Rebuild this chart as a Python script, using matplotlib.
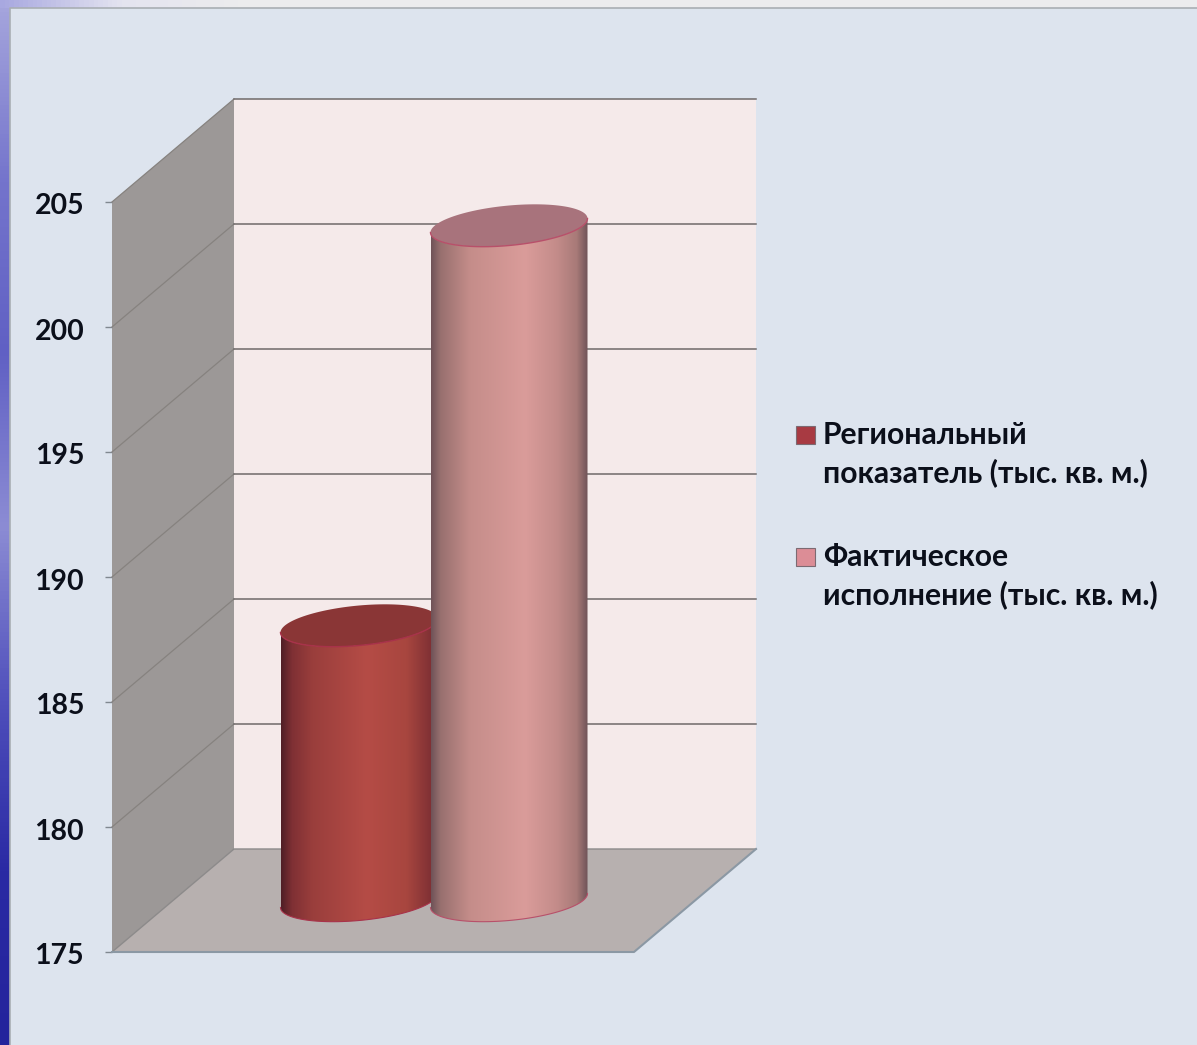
import numpy as np
import matplotlib
matplotlib.use('Agg')
from matplotlib import pyplot as plt
from matplotlib.colors import LinearSegmentedColormap
from matplotlib.patches import Polygon, PathPatch, Rectangle
from matplotlib.path import Path
from matplotlib.transforms import ScaledTranslation

plt.rcParams['font.family'] = ['Lato', 'Open Sans', 'DejaVu Sans']

labels = ['Региональный\nпоказатель (тыс. кв. м.)', 'Фактическое\nисполнение (тыс. кв. м.)']
values = [186, 202]
yticks = [175, 180, 185, 190, 195, 200, 205]
top_colors = ['#8a3636', '#a8737c']
key_colors = ['#a83a42', '#dc8d96']
edge_colors = ['#a8324a', '#b8506a']
shades = [
    [(0, '#4f1f26'), (.07, '#7f3034'), (.2, '#9a3e3c'), (.55, '#b54c46'), (.8, '#a8463f'), (.96, '#7f3034'), (1, '#5f2529')],
    [(0, '#6f5358'), (.06, '#98706f'), (.25, '#c58d8a'), (.6, '#da9c9a'), (.8, '#c48c8a'), (.93, '#a87a78'), (1, '#6f5358')],
]

W, H = 1197, 1045
BG = '#dde4ee'
PX_X = 150.0   # pixels per category
PX_Y = 25.0    # pixels per value unit
DEPTH_X = 122 / PX_X
DEPTH_Y = 103 / PX_Y

fig = plt.figure(figsize=(W / 100, H / 100), dpi=100, facecolor=BG)

# slide decoration behind the chart
side = fig.add_axes([0, 0, 10 / W, 1 - 8 / H])
side.axis('off')
blue = LinearSegmentedColormap.from_list('side', ['#a4a4dc', '#7474cc', '#6060c4', '#8c8cd4', '#5050bc', '#2a2aa4', '#24249c'])
side.imshow(np.linspace(0, 1, 256).reshape(-1, 1), cmap=blue, aspect='auto')
strip = fig.add_axes([0, 1 - 8 / H, 1, 8 / H])
strip.axis('off')
top_cmap = LinearSegmentedColormap.from_list('strip', [(0, '#a8a8e0'), (.1, '#e4e4f0'), (.2, '#ececee'), (1, '#ececee')])
strip.imshow(np.linspace(0, 1, 256).reshape(1, -1), cmap=top_cmap, aspect='auto')
fig.add_artist(plt.Line2D([10 / W, 10 / W, 1], [0, 1 - 8 / H, 1 - 8 / H], color='#a9aeb4', lw=1.2))

ax = fig.add_axes([112 / W, 1 - 952 / H, 522 / W, 750 / H])
ax.set_facecolor('none')
ax.set_xlim(-186 / PX_X, 336 / PX_X)
ax.set_ylim(175, 205)
x0, x1 = ax.get_xlim()
for s in ax.spines.values():
    s.set_visible(False)
ax.set_xticks([])
ax.set_yticks(yticks)
ax.tick_params(axis='y', length=5, width=1, color='#808890', pad=15, labelsize=20.5, labelcolor='#0b0f1a')
down = ScaledTranslation(0, -2 / 100, fig.dpi_scale_trans)
for t in ax.get_yticklabels():
    t.set_fontweight('bold')
    t.set_transform(t.get_transform() + down)


def shift(x, y, d):
    return (x + d * DEPTH_X, y + d * DEPTH_Y)


# walls and floor
ax.add_patch(Polygon([shift(x0, 175, 1), shift(x1, 175, 1), shift(x1, 205, 1), shift(x0, 205, 1)],
                     fc='#f5eaea', ec='none', clip_on=False, zorder=1))
ax.add_patch(Polygon([shift(x0, 175, 0), shift(x0, 205, 0), shift(x0, 205, 1), shift(x0, 175, 1)],
                     fc='#9c9897', ec='none', clip_on=False, zorder=1))
ax.add_patch(Polygon([shift(x0, 175, 0), shift(x1, 175, 0), shift(x1, 175, 1), shift(x0, 175, 1)],
                     fc='#b7b0af', ec='none', clip_on=False, zorder=1))

# gridlines run along the back wall and down the side wall
for v in yticks:
    back_l, back_r = shift(x0, v, 1), shift(x1, v, 1)
    front = shift(x0, v, 0)
    if v == 175:
        ax.plot([front[0], back_l[0], back_r[0]], [front[1], back_l[1], back_r[1]], color='#8c8a8a', lw=1,
                clip_on=False, zorder=2)
        ax.plot([x0, x1, back_r[0]], [175, 175, back_r[1]], color='#8b98a4', lw=1.5, clip_on=False, zorder=2)
    else:
        ax.plot([front[0], back_l[0]], [front[1], back_l[1]], color='#86827f', lw=0.9, clip_on=False, zorder=2)
        ax.plot([back_l[0], back_r[0]], [back_l[1], back_r[1]], color='#6f6a6a', lw=1.1, clip_on=False, zorder=2)

R_X = 78.5 / PX_X
R_Y = 20.0 / PX_Y
TILT = 7.0 / PX_Y
t = np.linspace(0, 2 * np.pi, 121)

for i, v in enumerate(values):
    cx, base = shift(i, 175, 0.5)
    top = v + 0.5 * DEPTH_Y
    z = 3 + i
    ex = R_X * np.cos(t)
    ey = R_Y * np.sin(t) + TILT * np.cos(t)
    # body outline: front half of the top rim, then the front half of the base rim
    front_half = (t >= np.pi)
    rim_x = cx + ex[front_half]
    rim_top = top + ey[front_half]
    rim_base = base + ey[front_half]
    px = np.concatenate([rim_x, rim_x[::-1]])
    py = np.concatenate([rim_top, rim_base[::-1]])
    body = Path(np.column_stack([px, py]))
    cmap = LinearSegmentedColormap.from_list('c%d' % i, shades[i])
    im = ax.imshow(np.linspace(0, 1, 256).reshape(1, -1), cmap=cmap, aspect='auto',
                   extent=[cx - R_X, cx + R_X, base - R_Y - TILT, top + R_Y + TILT], zorder=z)
    im.set_clip_path(PathPatch(body, transform=ax.transData))
    ax.add_patch(Polygon(np.column_stack([cx + ex, top + ey]), fc=top_colors[i], ec='none',
                         clip_on=False, zorder=z + 0.1))
    ax.plot(rim_x, rim_top, color=edge_colors[i], lw=1.0, zorder=z + 0.2, clip_on=False)
    ax.plot(rim_x, rim_base, color=edge_colors[i], lw=0.8, zorder=z + 0.1, clip_on=False)

ax.set_xlim(x0, x1)
ax.set_ylim(175, 205)

# legend
legend_y = [435, 557]
for lab, col, y in zip(labels, key_colors, legend_y):
    fig.add_artist(Rectangle((796 / W, 1 - (y + 9) / H), 19 / W, 18 / H, transform=fig.transFigure,
                             fc=col, ec='#7c6a72', lw=0.8))
    fig.text(823 / W, 1 - (y - 14) / H, lab, fontsize=21.7, fontweight='bold', color='#0b0f1a',
             va='top', ha='left', linespacing=1.37)

fig.savefig('out.png', dpi=100, facecolor=BG)
